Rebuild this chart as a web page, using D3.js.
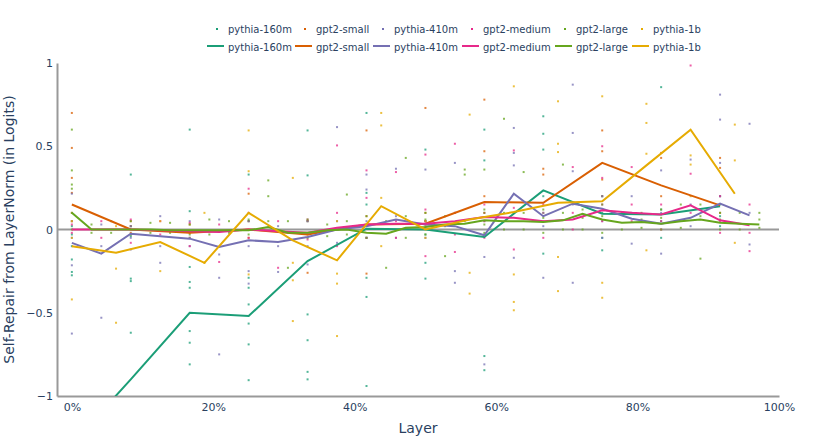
<!DOCTYPE html>
<html>
<head>
<meta charset="utf-8">
<script src="https://cdn.jsdelivr.net/npm/d3@7"></script>
<style>
  body { margin: 0; background: #fff; }
  text { font-family: "DejaVu Sans", sans-serif; fill: #2a3f5f; }
</style>
</head>
<body>
<svg width="830" height="447"></svg>
<script>
// model names + colours (Dark2)
let models = ["pythia-160m", "gpt2-small", "pythia-410m", "gpt2-medium", "gpt2-large", "pythia-1b"];
let colors = ["#1b9e77", "#d95f02", "#7570b3", "#e7298a", "#66a61e", "#e6ab02"];

// mean self-repair per layer
let pythia160mLine = [-1.29, -0.9, -0.50, -0.52, -0.19, 0.005, 0.0, -0.045, 0.235, 0.095, 0.09, 0.14];
let gpt2SmallLine = [0.15, 0.0, -0.02, 0.0, -0.03, 0.03, 0.035, 0.165, 0.16, 0.40, 0.265, 0.145];
let pythia410mLine = [-0.08, -0.145, -0.025, -0.04, -0.055, -0.105, -0.065, -0.075, -0.045, 0.0, 0.02, 0.06,
  0.03, 0.02, -0.035, 0.215, 0.08, 0.155, 0.125, 0.065, 0.035, 0.07, 0.155, 0.085];
let gpt2MediumLine = [0.0, 0.0, 0.0, -0.005, -0.01, -0.015, 0.0, -0.01, -0.02, 0.01, 0.03, 0.035,
  0.035, 0.05, 0.075, 0.07, 0.05, 0.06, 0.115, 0.10, 0.09, 0.145, 0.055, 0.025];
let gpt2LargeLine = [0.10, 0.0, 0.0, 0.0, 0.0, -0.005, -0.005, -0.005, -0.005, -0.005, 0.015, -0.02,
  -0.02, -0.005, 0.0, -0.02, -0.025, 0.01, 0.015, 0.03, 0.035, 0.055, 0.05, 0.05,
  0.045, 0.055, 0.095, 0.06, 0.04, 0.045, 0.035, 0.05, 0.06, 0.04, 0.035, 0.03];
let pythia1bLine = [-0.10, -0.14, -0.075, -0.20, 0.10, -0.065, -0.185, 0.14, 0.0, 0.06, 0.105, 0.16, 0.17, 0.385, 0.60, 0.215];

// per-head values (one list per layer)
let pythia160mDots = [
  [0.02, -0.03, -0.1, -0.18, -0.255, -0.275], [0.33, 0.02, -0.04, -0.295, -0.31, -0.62],
  [0.6, 0.11, -0.225, -0.315, -0.35, -0.61, -0.68, -0.81], [0.33, 0.05, -0.29, -0.35, -0.45, -0.565, -0.69, -0.905],
  [0.595, 0.325, 0.05, -0.51, -0.665, -0.855, -0.9], [0.70, 0.22, 0.15, -0.05, -0.29, -0.405, -0.94],
  [0.48, 0.05, -0.03, -0.2, -0.295], [0.60, 0.415, 0.1, -0.03, -0.76, -0.845],
  [0.68, 0.575, 0.48, 0.2, -0.145], [0.2, 0.1, -0.05, -0.125],
  [0.855, 0.12, 0.05, -0.05], [0.2, 0.15, 0.08, 0.02]
];
let gpt2SmallDots = [
  [0.70, 0.49, 0.31, 0.22, 0.1, 0.05], [0.05, 0.02, -0.02], [0.03, -0.02, -0.05], [0.215, 0.05, -0.05],
  [0.05, -0.03, -0.26], [0.595, 0.08, -0.265], [0.73, 0.1, 0.02], [0.78, 0.47, 0.2, 0.1],
  [0.365, 0.33, 0.1], [0.595, 0.47, 0.3, 0.2], [0.46, 0.43, 0.2], [0.43, 0.37, 0.1]
];
let pythia410mDots = [
  [0.215, 0.05, -0.05, -0.215, -0.625], [0.03, -0.1, -0.53], [0.02, -0.05, -0.12], [0.08, -0.1, -0.2],
  [0.05, -0.05, -0.1], [0.06, -0.15, -0.29, -0.75], [0.05, -0.1, -0.25, -0.325], [0.02, -0.1, -0.255],
  [0.05, -0.1, -0.21], [0.615, 0.05, -0.08], [0.33, 0.24, 0.05, -0.05], [0.365, 0.08, -0.05],
  [0.36, 0.05, -0.05], [0.40, 0.1, -0.25, -0.32], [0.05, -0.165, -0.81], [0.61, 0.46, 0.385, 0.1, -0.17],
  [0.1, 0.02, -0.29], [0.87, 0.58, 0.35, 0.15, -0.32], [0.2, 0.05, -0.05], [0.2, 0.1, -0.085],
  [0.355, 0.1, -0.145], [0.42, 0.15, 0.02], [0.81, 0.66, 0.40, 0.2], [0.635, 0.1, -0.09]
];
let gpt2MediumDots = [
  [0.03, -0.02], [0.05, -0.05], [0.06, -0.08], [0.05, -0.03], [0.04, -0.1], [0.03, -0.195],
  [0.245, 0.1, -0.05], [0.05, -0.23], [0.06, -0.06], [0.505, 0.1, -0.1], [0.355, 0.19, -0.05], [0.345, 0.05, -0.05],
  [0.45, 0.12, 0.05, -0.16], [0.515, 0.1, -0.03, -0.135], [0.15, 0.05, -0.05], [0.475, 0.13, 0.1, -0.12],
  [0.15, 0.05, -0.05], [0.375, 0.1, 0.0], [0.50, 0.31, 0.15, 0.05], [0.375, 0.15, 0.05],
  [0.15, 0.05, 0.0], [0.985, 0.335, 0.1], [0.2, 0.05, -0.02], [0.15, -0.02, -0.13]
];
let gpt2LargeDots = [
  [0.60, 0.355, 0.27, 0.245, 0.1, 0.0], [0.03, -0.02], [0.05, -0.02], [0.05, -0.03], [0.04, -0.02], [0.04, -0.02],
  [0.03, -0.03], [0.06, -0.03], [0.05, -0.02], [0.06, -0.03], [0.295, 0.20, 0.05], [0.05, -0.23],
  [0.06, -0.05], [0.03, -0.04], [0.21, 0.05, -0.03], [0.08, -0.05], [0.05, -0.23], [0.43, 0.08, -0.05],
  [0.1, 0.06, -0.03], [0.08, 0.02, -0.16], [0.36, 0.33, 0.05], [0.36, 0.12, 0.03, -0.02], [0.665, 0.1, 0.0], [0.345, 0.1, 0.0],
  [0.12, 0.07, -0.02], [0.39, 0.1, 0.0], [0.12, 0.07, 0.0], [0.15, 0.08, -0.02], [0.1, 0.0], [0.1, 0.06, 0.01],
  [0.12, 0.07, 0.0], [0.15, 0.01], [0.15, 0.08, -0.175], [0.1, 0.06, 0.0], [0.1, 0.0], [0.1, 0.06, 0.01]
];
let pythia1bDots = [
  [0.05, -0.05, -0.42], [0.02, -0.235, -0.56], [0.05, -0.25], [0.1, -0.2],
  [0.595, 0.35, -0.27], [0.31, -0.2, -0.305, -0.55], [0.05, -0.265, -0.325, -0.64], [0.70, 0.625, 0.19, -0.1],
  [0.05, -0.05], [0.69, -0.26, -0.385], [0.86, -0.27, -0.435, -0.485], [0.77, 0.515, 0.465, -0.165, -0.37],
  [0.80, -0.32, -0.41], [0.755, 0.64, 0.455, -0.125], [0.445, 0.39, 0.2], [0.63, 0.415, -0.08]
];

let lines = [pythia160mLine, gpt2SmallLine, pythia410mLine, gpt2MediumLine, gpt2LargeLine, pythia1bLine];
let dots = [pythia160mDots, gpt2SmallDots, pythia410mDots, gpt2MediumDots, gpt2LargeDots, pythia1bDots];

let xTicks = [0, 0.2, 0.4, 0.6, 0.8, 1.0];
let xTickLabels = ["0%", "20%", "40%", "60%", "80%", "100%"];
let yTicks = [-1, -0.5, 0, 0.5, 1];
let yTickLabels = ["\u22121", "\u22120.5", "0", "0.5", "1"];

let svg = d3.select("svg");
var padding = {t: 63, r: 51, b: 51, l: 57};
var chartWidth = +svg.attr("width") - padding.l - padding.r;
var chartHeight = +svg.attr("height") - padding.t - padding.b;

var x = d3.scaleLinear().domain([-0.021, 1.0]).range([padding.l, padding.l + chartWidth]);
var y = d3.scaleLinear().domain([-1, 1]).range([padding.t + chartHeight, padding.t]);

svg.append("clipPath").attr("id", "plotClip")
  .append("rect")
    .attr("x", padding.l).attr("y", padding.t)
    .attr("width", chartWidth).attr("height", chartHeight);

// zero line
svg.append("line")
  .attr("x1", padding.l).attr("x2", padding.l + chartWidth)
  .attr("y1", y(0)).attr("y2", y(0))
  .attr("stroke", "#999").attr("stroke-width", 2);

// axes (no tick marks, just labels)
let yAxis = svg.append("g")
  .attr("transform", "translate(" + padding.l + ",0)")
  .call(d3.axisLeft(y).tickValues(yTicks).tickSize(0).tickPadding(4)
    .tickFormat((d, i) => yTickLabels[i]));
let xAxis = svg.append("g")
  .attr("transform", "translate(0," + (padding.t + chartHeight) + ")")
  .call(d3.axisBottom(x).tickValues(xTicks).tickSize(0).tickPadding(7)
    .tickFormat((d, i) => xTickLabels[i]));
[xAxis, yAxis].forEach(function(ax) {
  ax.select(".domain").attr("stroke", "#999").attr("stroke-width", 2);
  ax.selectAll("text").attr("font-size", 11).attr("font-family", "DejaVu Sans").attr("fill", "#2a3f5f");
});

let plotG = svg.append("g").attr("clip-path", "url(#plotClip)");

// scatter of heads
dots.forEach(function(layers, m) {
  let n = layers.length;
  let pts = [];
  layers.forEach((vals, i) => vals.forEach(v => pts.push({x: i / n, y: v})));
  plotG.append("g").selectAll("rect")
    .data(pts)
    .join("rect")
      .attr("x", d => x(d.x) - 1)
      .attr("y", d => y(d.y) - 1)
      .attr("width", 2).attr("height", 2)
      .attr("fill", colors[m])
      .attr("opacity", 0.75);
});

// mean lines
let lineGen = d3.line().x(d => x(d.x)).y(d => y(d.y));
lines.forEach(function(vals, m) {
  let n = vals.length;
  plotG.append("path")
    .datum(vals.map((v, i) => ({x: i / n, y: v})))
    .attr("d", lineGen)
    .attr("fill", "none")
    .attr("stroke", colors[m])
    .attr("stroke-width", 2);
});

// legend: row 1 markers, row 2 lines
let legendX = [228, 316, 394, 483, 576, 653];
let legendG = svg.append("g");
models.forEach(function(name, m) {
  legendG.append("rect")
    .attr("x", legendX[m] - 12).attr("y", 28)
    .attr("width", 2).attr("height", 2)
    .attr("fill", colors[m]);
  legendG.append("text")
    .attr("x", legendX[m]).attr("y", 33)
    .attr("font-size", 10)
    .text(name);
  legendG.append("line")
    .attr("x1", legendX[m] - 21).attr("x2", legendX[m] - 4)
    .attr("y1", 46).attr("y2", 46)
    .attr("stroke", colors[m]).attr("stroke-width", 2);
  legendG.append("text")
    .attr("x", legendX[m]).attr("y", 50.5)
    .attr("font-size", 10)
    .text(name);
});

// axis titles
svg.append("text")
  .attr("x", padding.l + chartWidth / 2).attr("y", 433)
  .attr("text-anchor", "middle").attr("font-size", 14)
  .text("Layer");
svg.append("text")
  .attr("transform", "translate(14," + (padding.t + chartHeight / 2) + ") rotate(-90)")
  .attr("text-anchor", "middle").attr("font-size", 14)
  .text("Self-Repair from LayerNorm (in Logits)");
</script>
</body>
</html>
